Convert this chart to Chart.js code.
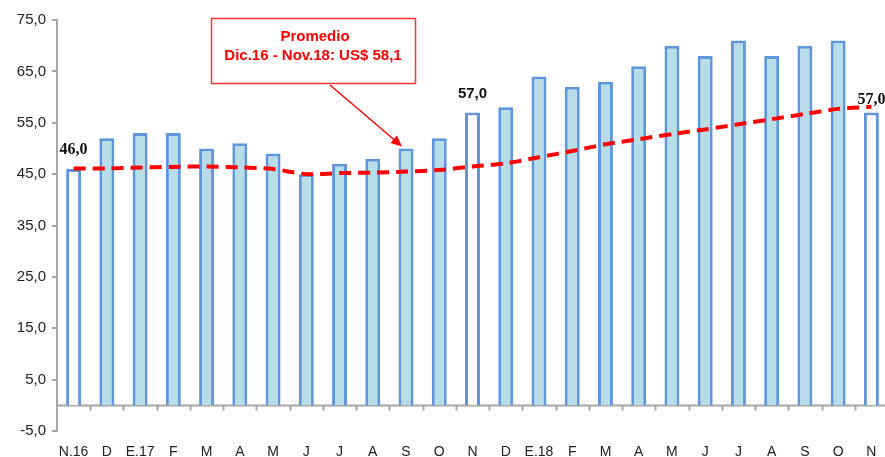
<!DOCTYPE html>
<html>
<head>
<meta charset="utf-8">
<script src="https://cdn.jsdelivr.net/npm/chart.js@4/dist/chart.umd.min.js"></script>
<style>
  html, body { margin: 0; padding: 0; background: #fff; overflow: hidden; }
  #wrap { width: 889px; height: 457px; position: relative; }
</style>
</head>
<body>
<div id="wrap"><canvas id="c"></canvas></div>
<script>
const categories = ['N.16','D','E.17','F','M','A','M','J','J','A','S','O','N','D','E.18','F','M','A','M','J','J','A','S','O','N'];
const prices = [46.0,52,53,53,50,51,49,45,47,48,50,52,57.0,58,64,62,63,66,70,68,71,68,70,71,57.0];
const average = [46.1,46.1,46.3,46.4,46.5,46.3,46.0,45.0,45.2,45.3,45.5,45.8,46.5,47.1,48.3,49.5,50.8,51.8,52.8,53.7,54.7,55.7,56.7,57.7,58.1];
const highlighted = [0, 12, 24];
const valueLabels = [{i:0, text:'46,0', serif:true}, {i:12, text:'57,0', serif:false}, {i:24, text:'57,0', serif:true}];
const noteLines = ['Promedio', 'Dic.16 - Nov.18: US$ 58,1'];
const noteTarget = 10;
const yTicks = {min: -5, max: 75, step: 10};

const AXIS = '#a6a6a6';
const fmt = v => v.toFixed(1).replace('.', ',');

const overlay = {
  id: 'overlay',
  beforeDatasetsDraw(chart) {
    const {ctx, chartArea, scales:{x, y}} = chart;
    const y0 = Math.round(y.getPixelForValue(0)) + 0.5;
    ctx.save();
    ctx.strokeStyle = AXIS;
    ctx.lineWidth = 2;
    ctx.beginPath();
    ctx.moveTo(chartArea.left, y0);
    ctx.lineTo(chartArea.right, y0);
    const n = categories.length;
    const w = (chartArea.right - chartArea.left) / n;
    for (let i = 1; i < n; i++) {
      const px = Math.round(chartArea.left + i * w) + 0.5;
      ctx.moveTo(px, y0);
      ctx.lineTo(px, y0 + 5);
    }
    ctx.stroke();
    ctx.restore();
  },
  afterDatasetsDraw(chart) {
    const {ctx, chartArea, scales:{x, y}} = chart;
    ctx.save();
    valueLabels.forEach(l => {
      ctx.font = l.serif ? 'bold 16px "Liberation Serif", "Times New Roman", serif' : 'bold 15px "Liberation Sans", Arial, sans-serif';
      ctx.fillStyle = '#111';
      ctx.textAlign = 'center';
      ctx.textBaseline = 'middle';
      const px = x.getPixelForValue(l.i);
      const py = y.getPixelForValue(prices[l.i]) - (l.i === 24 ? 13 : 19);
      ctx.fillText(l.text, px, py);
    });
    const bx = 211, by = 18, bw = 204, bh = 65;
    ctx.fillStyle = '#fff';
    ctx.fillRect(bx, by, bw, bh);
    ctx.strokeStyle = '#ff3333';
    ctx.lineWidth = 1.5;
    ctx.strokeRect(bx + 0.5, by + 0.5, bw, bh);
    ctx.fillStyle = '#ff0000';
    ctx.font = 'bold 15px "Liberation Sans", Arial, sans-serif';
    ctx.textAlign = 'center';
    ctx.textBaseline = 'middle';
    ctx.fillText(noteLines[0], bx + bw / 2 + 2, by + 19);
    ctx.fillText(noteLines[1], bx + bw / 2, by + 38);
    const sx = 330, sy = by + bh + 2;
    const ex = x.getPixelForValue(noteTarget) - 4;
    const ey = y.getPixelForValue(prices[noteTarget]) - 2;
    const ang = Math.atan2(ey - sy, ex - sx);
    ctx.strokeStyle = '#ff0000';
    ctx.lineWidth = 1.5;
    ctx.beginPath();
    ctx.moveTo(sx, sy);
    ctx.lineTo(ex - 8 * Math.cos(ang), ey - 8 * Math.sin(ang));
    ctx.stroke();
    ctx.beginPath();
    ctx.moveTo(ex, ey);
    ctx.lineTo(ex - 11 * Math.cos(ang) + 5 * Math.sin(ang), ey - 11 * Math.sin(ang) - 5 * Math.cos(ang));
    ctx.lineTo(ex - 11 * Math.cos(ang) - 5 * Math.sin(ang), ey - 11 * Math.sin(ang) + 5 * Math.cos(ang));
    ctx.closePath();
    ctx.fill();
    ctx.restore();
  }
};

new Chart(document.getElementById('c'), {
  data: {
    labels: categories,
    datasets: [
      {
        type: 'line',
        data: average,
        borderColor: '#ff0000',
        borderWidth: 4,
        borderDash: [12, 7],
        pointRadius: 0,
        tension: 0.3,
        fill: false,
        order: 0
      },
      {
        type: 'bar',
        data: prices,
        backgroundColor: prices.map((v, i) => highlighted.includes(i) ? '#ffffff' : '#b7dde8'),
        borderColor: '#6097dc',
        borderWidth: 3,
        categoryPercentage: 1,
        barPercentage: 0.45,
        order: 1
      }
    ]
  },
  options: {
    responsive: true,
    maintainAspectRatio: false,
    animation: false,
    layout: { padding: { top: 20, right: 1, bottom: 0, left: 0 } },
    plugins: { legend: { display: false }, tooltip: { enabled: false } },
    scales: {
      x: {
        grid: { display: false },
        border: { display: false },
        ticks: {
          color: '#222',
          font: { family: '"Liberation Sans", Arial, sans-serif', size: 14 },
          padding: 5,
          maxRotation: 0,
          autoSkip: false
        },
        afterFit(s) { s.height = 26; }
      },
      y: {
        min: yTicks.min,
        max: yTicks.max,
        border: { color: AXIS, width: 2 },
        grid: { drawOnChartArea: false, drawTicks: true, tickLength: 5, color: AXIS, lineWidth: 2 },
        ticks: {
          stepSize: yTicks.step,
          color: '#222',
          font: { family: '"Liberation Sans", Arial, sans-serif', size: 15 },
          padding: 6,
          callback: v => fmt(v)
        },
        afterFit(s) { s.width = 57; }
      }
    }
  },
  plugins: [overlay]
});
</script>
</body>
</html>
